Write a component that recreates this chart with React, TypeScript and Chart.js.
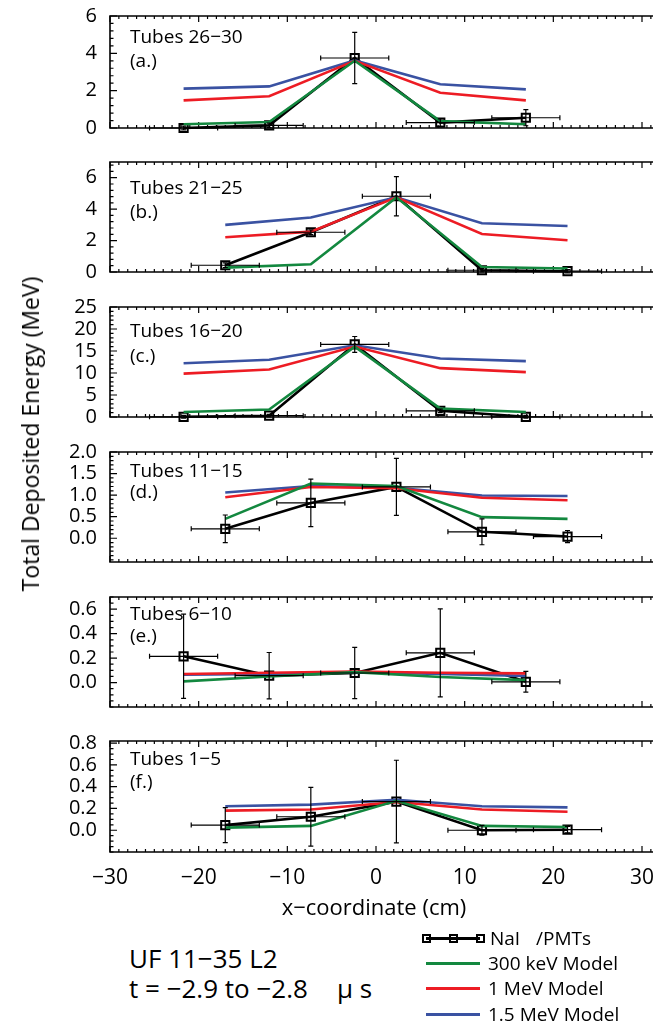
import React, { useEffect, useRef } from "react";
import { Chart, registerables } from "chart.js";

Chart.register(...registerables);

const FONT = "'Open Sans', 'DejaVu Sans', sans-serif";
const MINUS = "\u2212";

// ---------------- data ----------------
const X_SET_1 = [-21.7, -12.05, -2.4, 7.25, 16.9];
const X_SET_2 = [-17.0, -7.35, 2.3, 11.95, 21.6];
const X_ERR = 3.84;
const X_TICKS = [-30, -20, -10, 0, 10, 20, 30];

// (a) Tubes 26-30
const NAI_A = [0.0, 0.14, 3.75, 0.29, 0.55];
const ERR_A = [0.1, 0.12, 1.37, 0.2, 0.43];
const K300_A = [0.2, 0.32, 3.6, 0.37, 0.2];
const M1_A = [1.48, 1.7, 3.6, 1.89, 1.48];
const M15_A = [2.11, 2.23, 3.62, 2.34, 2.07];
const YT_A = [0, 2, 4, 6];

// (b) Tubes 21-25
const NAI_B = [0.43, 2.53, 4.82, 0.11, 0.05];
const ERR_B = [0.15, 0.15, 1.25, 0.1, 0.1];
const K300_B = [0.28, 0.49, 4.75, 0.32, 0.22];
const M1_B = [2.21, 2.57, 4.75, 2.42, 2.02];
const M15_B = [3.0, 3.47, 4.75, 3.1, 2.93];
const YT_B = [0, 2, 4, 6];

// (c) Tubes 16-20
const NAI_C = [0.05, 0.3, 16.5, 1.4, 0.05];
const ERR_C = [0.3, 0.3, 1.8, 0.4, 0.3];
const K300_C = [1.15, 1.7, 16.0, 1.9, 1.15];
const M1_C = [9.85, 10.8, 16.0, 11.1, 10.2];
const M15_C = [12.2, 13.0, 16.3, 13.3, 12.7];
const YT_C = [0, 5, 10, 15, 20, 25];

// (d) Tubes 11-15
const NAI_D = [0.22, 0.82, 1.19, 0.15, 0.04];
const ERR_D = [0.32, 0.55, 0.66, 0.3, 0.14];
const K300_D = [0.45, 1.27, 1.21, 0.49, 0.45];
const M1_D = [0.95, 1.19, 1.16, 0.94, 0.88];
const M15_D = [1.06, 1.21, 1.17, 0.99, 0.98];
const YT_D = [0, 0.5, 1.0, 1.5, 2.0];

// (e) Tubes 6-10
const NAI_E = [0.215, 0.056, 0.078, 0.243, 0.006];
const ERR_E = [0.345, 0.19, 0.21, 0.36, 0.085];
const K300_E = [0.01, 0.05, 0.085, 0.045, 0.02];
const M1_E = [0.07, 0.08, 0.09, 0.08, 0.075];
const M15_E = [0.065, 0.07, 0.085, 0.07, 0.055];
const YT_E = [0, 0.2, 0.4, 0.6];

// (f) Tubes 1-5
const NAI_F = [0.047, 0.124, 0.263, 0.0, 0.005];
const ERR_F = [0.16, 0.27, 0.38, 0.045, 0.03];
const K300_F = [0.024, 0.04, 0.27, 0.04, 0.03];
const M1_F = [0.18, 0.19, 0.26, 0.19, 0.17];
const M15_F = [0.22, 0.235, 0.28, 0.22, 0.21];
const YT_F = [0, 0.2, 0.4, 0.6, 0.8];

const PANELS = [
  { title: "Tubes 26" + MINUS + "30", tag: "(a.)", x: X_SET_1, nai: NAI_A, err: ERR_A, k300: K300_A, m1: M1_A, m15: M15_A, ticks: YT_A, dec: 0, min: 0, max: 6, minor: 0.4 },
  { title: "Tubes 21" + MINUS + "25", tag: "(b.)", x: X_SET_2, nai: NAI_B, err: ERR_B, k300: K300_B, m1: M1_B, m15: M15_B, ticks: YT_B, dec: 0, min: 0, max: 7, minor: 0.4 },
  { title: "Tubes 16" + MINUS + "20", tag: "(c.)", x: X_SET_1, nai: NAI_C, err: ERR_C, k300: K300_C, m1: M1_C, m15: M15_C, ticks: YT_C, dec: 0, min: 0, max: 25, minor: 1 },
  { title: "Tubes 11" + MINUS + "15", tag: "(d.)", x: X_SET_2, nai: NAI_D, err: ERR_D, k300: K300_D, m1: M1_D, m15: M15_D, ticks: YT_D, dec: 1, min: -0.55, max: 2.0, minor: 0.1 },
  { title: "Tubes 6" + MINUS + "10", tag: "(e.)", x: X_SET_1, nai: NAI_E, err: ERR_E, k300: K300_E, m1: M1_E, m15: M15_E, ticks: YT_E, dec: 1, min: -0.2, max: 0.7, minor: 0.05 },
  { title: "Tubes 1" + MINUS + "5", tag: "(f.)", x: X_SET_2, nai: NAI_F, err: ERR_F, k300: K300_F, m1: M1_F, m15: M15_F, ticks: YT_F, dec: 1, min: -0.2, max: 0.82, minor: 0.05 },
];

// ---------------- layout / style ----------------
const LAYOUT = [
  { top: 16, bottom: 128, t1: 36.7, t2: 60.7 },
  { top: 162, bottom: 272, t1: 187.3, t2: 211 },
  { top: 307, bottom: 417, t1: 330, t2: 355 },
  { top: 452, bottom: 562, t1: 470, t2: 491.7 },
  { top: 597, bottom: 707, t1: 613.3, t2: 635 },
  { top: 741, bottom: 852, t1: 758.3, t2: 781.7 },
];
const W = 653;
const CW = 720; // canvas wider than page: the plot runs off the right edge like the original
const PAD = 28;
const X_AXIS_H = 40;
const PLOT_LEFT = 110;
const PLOT_RIGHT = 700;
const X_MIN = -30;
const X_MAX = -30 + ((PLOT_RIGHT - PLOT_LEFT) * 30) / 266;

const GREEN = "#13883f";
const RED = "#ed1c24";
const BLUE = "#3a52a2";

function fmt(v: number, dec: number) {
  const s = v.toFixed(dec);
  return s.startsWith("-") ? MINUS + s.slice(1) : s;
}

function makeFramePlugin(p: any) {
  return {
    id: "frameTicks",
    beforeDatasetsDraw(chart: any) {
      const { ctx, chartArea: a, scales } = chart;
      const xs = scales.x;
      const ys = scales.y;
      ctx.save();
      ctx.strokeStyle = "#000";
      ctx.lineWidth = 1.6;
      ctx.beginPath();
      ctx.moveTo(a.right + 0.5, a.top);
      ctx.lineTo(a.left, a.top);
      ctx.lineTo(a.left, a.bottom);
      ctx.lineTo(a.right + 0.5, a.bottom);
      ctx.stroke();
      ctx.lineWidth = 1.2;
      ctx.beginPath();
      for (let v = Math.ceil(X_MIN); v <= X_MAX; v += 1) {
        const px = xs.getPixelForValue(v);
        const len = v % 10 === 0 ? 6 : 3;
        ctx.moveTo(px, a.bottom);
        ctx.lineTo(px, a.bottom - len);
        ctx.moveTo(px, a.top);
        ctx.lineTo(px, a.top + len);
      }
      const k0 = Math.ceil(p.min / p.minor - 1e-6);
      const k1 = Math.floor(p.max / p.minor + 1e-6);
      for (let k = k0; k <= k1; k++) {
        const v = k * p.minor;
        const major = p.ticks.some((t: number) => Math.abs(t - v) < p.minor / 10);
        const py = ys.getPixelForValue(v);
        ctx.moveTo(a.left, py);
        ctx.lineTo(a.left + (major ? 7 : 3.5), py);
      }
      ctx.stroke();
      ctx.restore();
    },
    afterDatasetsDraw(chart: any) {
      const { ctx, scales } = chart;
      const xs = scales.x;
      const ys = scales.y;
      ctx.save();
      ctx.strokeStyle = "#000";
      ctx.lineWidth = 1.2;
      ctx.beginPath();
      const cap = 2.5;
      p.x.forEach((xv: number, i: number) => {
        const cx = xs.getPixelForValue(xv);
        const cy = ys.getPixelForValue(p.nai[i]);
        const yTop = ys.getPixelForValue(p.nai[i] + p.err[i]);
        const yBot = ys.getPixelForValue(p.nai[i] - p.err[i]);
        const xL = xs.getPixelForValue(xv - X_ERR);
        const xR = xs.getPixelForValue(xv + X_ERR);
        ctx.moveTo(cx, yTop);
        ctx.lineTo(cx, yBot);
        ctx.moveTo(cx - cap, yTop);
        ctx.lineTo(cx + cap, yTop);
        ctx.moveTo(cx - cap, yBot);
        ctx.lineTo(cx + cap, yBot);
        ctx.moveTo(xL, cy);
        ctx.lineTo(xR, cy);
        ctx.moveTo(xL, cy - cap);
        ctx.lineTo(xL, cy + cap);
        ctx.moveTo(xR, cy - cap);
        ctx.lineTo(xR, cy + cap);
      });
      ctx.stroke();
      ctx.restore();
    },
  };
}

function Panel({ idx }: { idx: number }) {
  const ref = useRef<HTMLCanvasElement | null>(null);
  const p = PANELS[idx];
  const L = LAYOUT[idx];
  const isBottom = idx === PANELS.length - 1;
  const plotH = L.bottom - L.top;
  const h = plotH + PAD * 2 + (isBottom ? X_AXIS_H : 0);

  useEffect(() => {
    const pts = (arr: number[]) => p.x.map((xv, i) => ({ x: xv, y: arr[i] }));
    const lineDs = (label: string, arr: number[], color: string) => ({
      label,
      data: pts(arr),
      borderColor: color,
      backgroundColor: color,
      borderWidth: 2.6,
      pointRadius: 0,
      tension: 0,
      clip: false as any,
    });
    const chart = new Chart(ref.current as HTMLCanvasElement, {
      type: "line",
      data: {
        datasets: [
          lineDs("300 keV Model", p.k300, GREEN),
          lineDs("1 MeV Model", p.m1, RED),
          lineDs("1.5 MeV Model", p.m15, BLUE),
          {
            label: "NaI/PMTs",
            data: pts(p.nai),
            borderColor: "#000",
            backgroundColor: "rgba(0,0,0,0)",
            borderWidth: 2.6,
            tension: 0,
            pointStyle: "rect",
            pointRadius: 5.8,
            pointBorderWidth: 2,
            pointBorderColor: "#000",
            pointBackgroundColor: "rgba(255,255,255,0)",
            clip: false as any,
          },
        ],
      },
      options: {
        animation: false,
        responsive: false,
        maintainAspectRatio: false,
        events: [],
        layout: { autoPadding: false, padding: { left: 0, right: CW - PLOT_RIGHT, top: PAD, bottom: PAD } },
        plugins: { legend: { display: false }, tooltip: { enabled: false } },
        scales: {
          x: {
            type: "linear",
            min: X_MIN,
            max: X_MAX,
            display: isBottom,
            grid: { display: false, drawTicks: false },
            border: { display: false },
            afterBuildTicks: (s: any) => {
              s.ticks = X_TICKS.map((v) => ({ value: v }));
            },
            afterFit: (s: any) => {
              s.height = isBottom ? X_AXIS_H : 0;
            },
            ticks: {
              color: "#000",
              padding: 13,
              maxRotation: 0,
              autoSkip: false,
              font: { family: FONT, size: 21 },
              callback: (v: any) => fmt(Number(v), 0),
            },
          },
          y: {
            type: "linear",
            min: p.min,
            max: p.max,
            grid: { display: false, drawTicks: false },
            border: { display: false },
            afterBuildTicks: (s: any) => {
              s.ticks = p.ticks.map((v) => ({ value: v }));
            },
            afterFit: (s: any) => {
              s.width = PLOT_LEFT;
            },
            ticks: {
              color: "#000",
              padding: 13,
              autoSkip: false,
              font: { family: FONT, size: 20 },
              callback: (v: any) => fmt(Number(v), p.dec),
            },
          },
        },
      } as any,
      plugins: [makeFramePlugin(p)],
    });
    return () => chart.destroy();
  }, []);

  return (
    <canvas
      ref={ref}
      width={CW}
      height={h}
      style={{ position: "absolute", left: 0, top: L.top - PAD, width: CW, height: h, display: "block" }}
    />
  );
}

function Txt({ x, cy, size, children, center }: any) {
  const lh = Math.round(size * 1.3);
  return (
    <div
      style={{
        position: "absolute",
        left: x,
        top: cy - lh / 2,
        height: lh,
        lineHeight: lh + "px",
        fontSize: size,
        fontFamily: FONT,
        color: "#000",
        whiteSpace: "pre",
        transform: center ? "translateX(-50%)" : undefined,
      }}
    >
      {children}
    </div>
  );
}

function LegendLine({ y, color, markers }: { y: number; color: string; markers?: boolean }) {
  const x0 = 426;
  const x1 = 480;
  return (
    <>
      <div style={{ position: "absolute", left: x0, top: y - 1.5, width: x1 - x0, height: 3, background: color }} />
      {markers &&
        [x0, (x0 + x1) / 2, x1].map((mx, i) => (
          <div
            key={i}
            style={{
              position: "absolute",
              left: mx - 4.5,
              top: y - 4.5,
              width: 5,
              height: 5,
              border: "2px solid #000",
              background: "transparent",
            }}
          />
        ))}
    </>
  );
}

export default function App() {
  return (
    <div style={{ position: "absolute", left: 0, top: 0, width: W, height: 1027, background: "#fff", overflow: "hidden" }}>
      {PANELS.map((_, i) => (
        <Panel key={i} idx={i} />
      ))}
      {PANELS.map((p, i) => (
        <React.Fragment key={"t" + i}>
          <Txt x={130} cy={LAYOUT[i].t1} size={19}>{p.title}</Txt>
          <Txt x={130} cy={LAYOUT[i].t2} size={19}>{p.tag}</Txt>
        </React.Fragment>
      ))}
      <div
        style={{
          position: "absolute",
          left: 30,
          top: 434,
          transform: "translate(-50%, -50%) rotate(-90deg)",
          whiteSpace: "nowrap",
          fontFamily: FONT,
          fontSize: 23,
          color: "#000",
        }}
      >
        Total Deposited Energy (MeV)
      </div>
      <Txt x={374} cy={906} size={22} center>{"x" + MINUS + "coordinate (cm)"}</Txt>
      <Txt x={129} cy={958} size={26}>{"UF 11" + MINUS + "35 L2"}</Txt>
      <Txt x={129} cy={988} size={26}>{"t = " + MINUS + "2.9 to " + MINUS + "2.8"}</Txt>
      <Txt x={337} cy={988} size={26}>{"\u03bc s"}</Txt>
      <LegendLine y={938} color="#000" markers />
      <Txt x={490} cy={938} size={19}>NaI</Txt>
      <Txt x={536} cy={938} size={19}>/PMTs</Txt>
      <LegendLine y={963} color={GREEN} />
      <Txt x={488} cy={963} size={19}>300 keV Model</Txt>
      <LegendLine y={988} color={RED} />
      <Txt x={488} cy={988} size={19}>1 MeV Model</Txt>
      <LegendLine y={1014} color={BLUE} />
      <Txt x={488} cy={1014} size={19}>1.5 MeV Model</Txt>
    </div>
  );
}
